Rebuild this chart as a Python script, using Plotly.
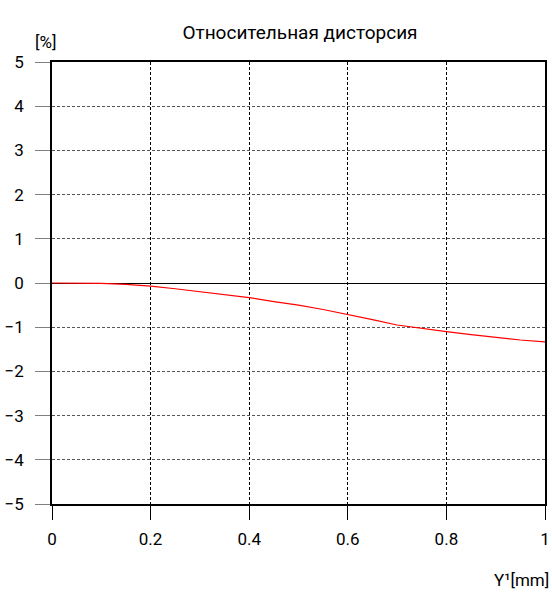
import plotly.graph_objects as go

x_mm = [0.0, 0.05, 0.1, 0.15, 0.2, 0.25, 0.3, 0.35, 0.4, 0.45, 0.5, 0.55, 0.6, 0.65, 0.7, 0.75, 0.8, 0.85, 0.9, 0.95, 1.0]
distortion = [0.0, 0.0, -0.01, -0.03, -0.07, -0.13, -0.20, -0.26, -0.33, -0.42, -0.50, -0.60, -0.71, -0.83, -0.95, -1.03, -1.10, -1.17, -1.23, -1.29, -1.33]
x_ticks = [0, 0.2, 0.4, 0.6, 0.8, 1]
x_tick_labels = ["0", "0.2", "0.4", "0.6", "0.8", "1"]
y_ticks = [-5, -4, -3, -2, -1, 0, 1, 2, 3, 4, 5]

fig = go.Figure()
fig.add_trace(go.Scatter(x=x_mm, y=distortion, mode="lines", line=dict(color="red", width=1.2), showlegend=False))

W, H = 552, 597
font = dict(family="Roboto, Liberation Sans, sans-serif", size=17, color="black")
fig.update_layout(
    width=W, height=H,
    margin=dict(l=52, r=7, t=62, b=93),
    paper_bgcolor="white", plot_bgcolor="white",
    font=font,
    title=dict(text="Относительная дисторсия", x=300/W, xanchor="center", y=1 - 32/H, yanchor="middle", font=dict(size=19)),
    xaxis=dict(range=[0, 1], tickvals=x_ticks, ticktext=x_tick_labels, showgrid=True, gridcolor="black", griddash="3px,2px", gridwidth=1,
               showline=True, linecolor="black", linewidth=1.5, mirror=True, ticks="outside", ticklen=14, tickcolor="black",
               zeroline=False, ticklabelstandoff=5, automargin=False, ticklabeloverflow="allow"),
    yaxis=dict(range=[-5, 5], tickvals=y_ticks, showgrid=True, gridcolor="#555", griddash="3px,2px", gridwidth=1,
               showline=True, linecolor="black", linewidth=1.5, mirror=True, ticks="outside", ticklen=15, tickcolor="gray",
               zeroline=True, zerolinecolor="black", zerolinewidth=1.2, ticklabelstandoff=8, automargin=False, ticklabeloverflow="allow"),
    annotations=[
        dict(text="[%]", xref="paper", yref="paper", x=-7/493, y=1 + 20/442, xanchor="center", yanchor="middle", showarrow=False, font=font),
        dict(text="Y¹[mm]", xref="paper", yref="paper", x=499/493, y=-76/442, xanchor="right", yanchor="middle", showarrow=False, font=font),
    ],
)
fig.write_html(
    "out.html",
    config={"displayModeBar": False},
    post_script="document.body.style.margin='0';document.documentElement.style.overflow='hidden';document.body.style.overflow='hidden';",
)
